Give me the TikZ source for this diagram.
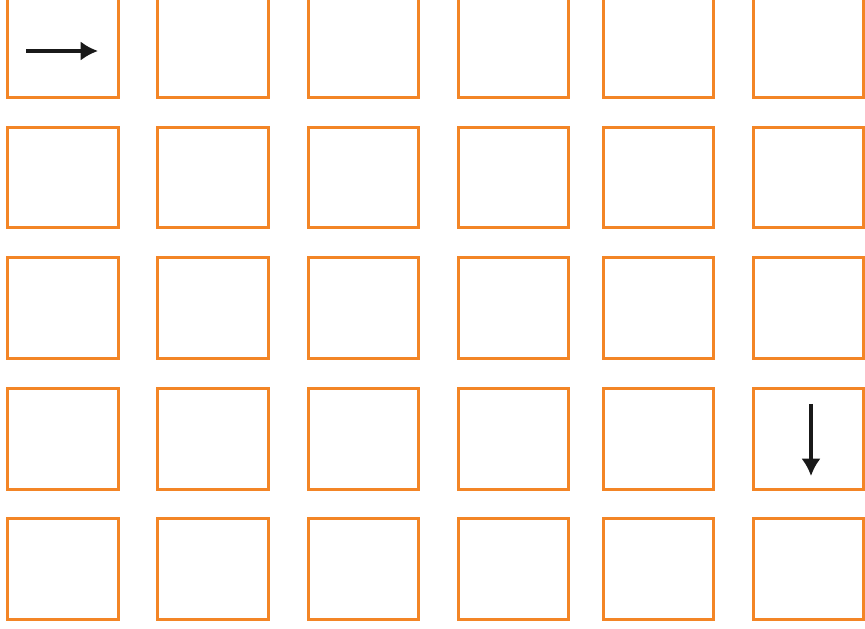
\documentclass[tikz,border=0pt]{standalone}
\usepackage{tikz}
\usetikzlibrary{arrows.meta,calc}
\definecolor{cellorange}{RGB}{243,133,38}

\begin{document}
\begin{tikzpicture}[
  x=0.03cm, y=-0.03cm,
  cell/.style={draw=cellorange,line width=0.09cm,minimum width=3.3cm,minimum height=3cm,inner sep=0pt},
  ar/.style={-{Latex[length=0.52cm,width=0.58cm]},line width=0.1cm,black!90},
]
\useasboundingbox (0,0) rectangle (865,629);
% grid of cells, rows r=1..5, columns c=1..6
\foreach \y [count=\r] in {48,178,308,439,569}{
  \foreach \x [count=\c] in {63,213,363,513,658,808}{
    \node[cell] (b\r\c) at (\x,\y) {};
  }
}
% direction marks
\coordinate (s1) at (26,51);
\coordinate (e1) at (98,51);
\draw[ar] (s1) -- (e1);
\coordinate (s2) at (811,404);
\coordinate (e2) at (811,476);
\draw[ar] (s2) -- (e2);
\end{tikzpicture}
\end{document}
